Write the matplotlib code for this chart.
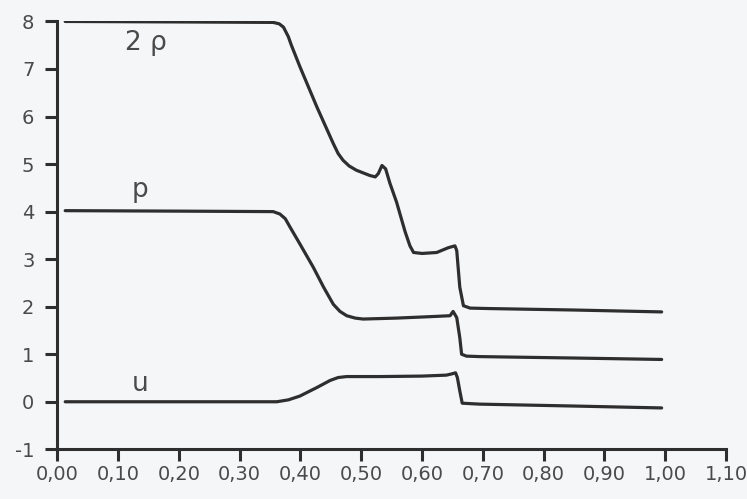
import matplotlib
matplotlib.use("Agg")
import matplotlib.pyplot as plt

# ---- data ----
x_rho2 = [0.013, 0.20, 0.355, 0.365, 0.372, 0.380, 0.385, 0.399, 0.427, 0.454, 0.462, 0.470,
          0.480, 0.492, 0.514, 0.523, 0.528, 0.534, 0.540, 0.547, 0.558, 0.572, 0.580,
          0.586, 0.600, 0.624, 0.643, 0.654, 0.657, 0.662, 0.668, 0.679, 0.712, 0.85, 0.994]
rho2 = [8.0, 7.99, 7.98, 7.95, 7.88, 7.68, 7.5, 7.05, 6.20, 5.43, 5.22, 5.08,
        4.96, 4.87, 4.76, 4.73, 4.80, 4.97, 4.90, 4.60, 4.20, 3.58, 3.28,
        3.14, 3.12, 3.14, 3.24, 3.28, 3.18, 2.41, 2.02, 1.97, 1.96, 1.93, 1.89]

x_p = [0.013, 0.20, 0.355, 0.366, 0.375, 0.383, 0.399, 0.421, 0.438, 0.454, 0.465, 0.476,
       0.490, 0.503, 0.558, 0.613, 0.646, 0.651, 0.657, 0.662, 0.665, 0.673, 0.695, 0.85, 0.994]
p = [4.02, 4.01, 4.0, 3.95, 3.85, 3.67, 3.32, 2.83, 2.41, 2.05, 1.90, 1.81,
     1.76, 1.74, 1.76, 1.79, 1.81, 1.90, 1.77, 1.35, 1.00, 0.96, 0.95, 0.92, 0.89]

x_u = [0.013, 0.20, 0.361, 0.380, 0.399, 0.427, 0.449, 0.462, 0.476, 0.531, 0.600, 0.640,
       0.650, 0.655, 0.658, 0.662, 0.666, 0.680, 0.695, 0.85, 0.994]
u = [0.0, 0.0, 0.0, 0.04, 0.12, 0.30, 0.45, 0.51, 0.53, 0.53, 0.54, 0.56,
     0.59, 0.61, 0.51, 0.23, -0.03, -0.04, -0.05, -0.09, -0.13]

x_ticks = [0.0, 0.1, 0.2, 0.3, 0.4, 0.5, 0.6, 0.7, 0.8, 0.9, 1.0, 1.1]
x_ticklabels = ["0,00", "0,10", "0,20", "0,30", "0,40", "0,50", "0,60", "0,70",
                "0,80", "0,90", "1,00", "1,10"]
y_ticks = [-1, 0, 1, 2, 3, 4, 5, 6, 7, 8]
y_ticklabels = ["-1", "0", "1", "2", "3", "4", "5", "6", "7", "8"]

curve_labels = ["2 ρ", "p", "u"]
label_pos = [(0.146, 7.55), (0.136, 4.45), (0.136, 0.37)]

# ---- style ----
bg = "#f5f6f8"
ink = "#2e2e2e"
txt = "#4a4a4a"

fig = plt.figure(figsize=(7.47, 4.99), dpi=100, facecolor=bg)
ax = fig.add_axes([0.0767, 0.0996, 0.972 - 0.0767, 0.957 - 0.0996], facecolor=bg)

lw = 2.3
for xs, ys in [(x_rho2, rho2), (x_p, p), (x_u, u)]:
    ax.plot(xs, ys, color=ink, lw=lw, solid_capstyle="round", solid_joinstyle="round")

for lab, (lx, ly) in zip(curve_labels, label_pos):
    ax.text(lx, ly, lab, fontsize=19, color=txt, ha="center", va="center",
            family="DejaVu Sans")

ax.set_xlim(0, 1.10)
ax.set_ylim(-1, 8)
ax.set_xticks(x_ticks)
ax.set_xticklabels(x_ticklabels)
ax.set_yticks(y_ticks)
ax.set_yticklabels(y_ticklabels)

for s in ["top", "right"]:
    ax.spines[s].set_visible(False)
for s in ["left", "bottom"]:
    ax.spines[s].set_linewidth(2.2)
    ax.spines[s].set_color(ink)

ax.tick_params(axis="both", direction="out", length=8.5, width=2.2, color=ink,
               labelsize=14, labelcolor=txt)
ax.tick_params(axis="y", pad=8)
ax.tick_params(axis="x", pad=3)

fig.savefig("out.png", dpi=100, facecolor=bg)
